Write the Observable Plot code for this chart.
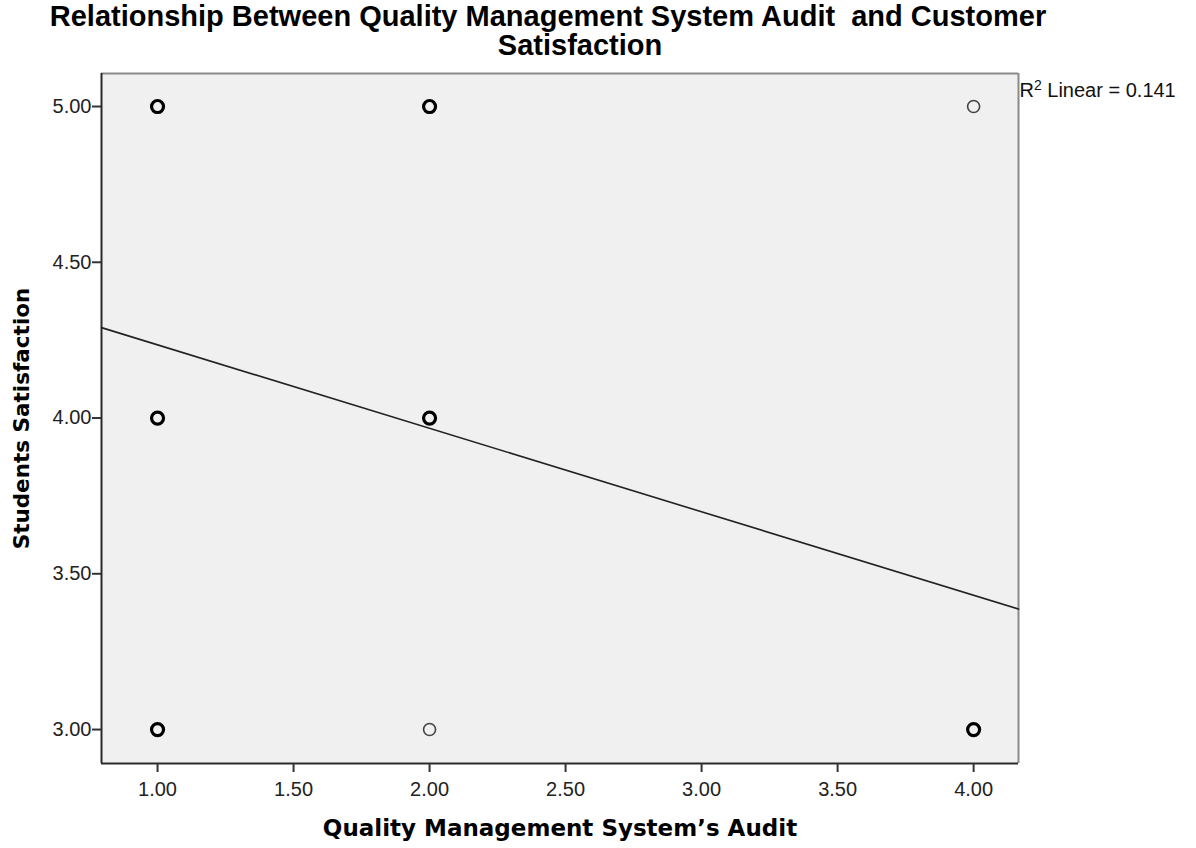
<!DOCTYPE html>
<html>
<head>
<meta charset="utf-8">
<script src="https://cdn.jsdelivr.net/npm/d3@7"></script>
<script src="https://cdn.jsdelivr.net/npm/@observablehq/plot@0.6"></script>
<style>
  html, body { margin: 0; padding: 0; background: #fff; }
  #wrap { position: relative; width: 1196px; height: 848px; }
  #title {
    position: absolute; left: 60px; top: 2px; width: 1000px;
    font-family: "Liberation Sans", Arial, sans-serif; font-weight: bold;
    font-size: 29px; line-height: 29px; text-align: center; color: #000;
    white-space: pre;
  }
  #title span { display: block; position: relative; }
  #title .l1 { left: -12px; }
  #title .l2 { left: 20px; }
  #chart { position: absolute; left: 0; top: 62px; }
</style>
</head>
<body>
<div id="wrap">
  <div id="title"><span class="l1">Relationship Between Quality Management System Audit  and Customer</span><span class="l2">Satisfaction</span></div>
  <div id="chart"></div>
</div>
<script>
// Observed (audit, satisfaction) combinations and whether several cases share the spot
const audit        = [1, 1, 1, 2, 2, 2, 4, 4];
const satisfaction = [5, 4, 3, 5, 4, 3, 5, 3];
const overlapping  = [true, true, true, true, true, false, false, true];

// Linear fit reported for the data
const fitIntercept = 4.503;
const fitSlope = -0.268;
const rSquared = 0.141;

const xTicks = [1.0, 1.5, 2.0, 2.5, 3.0, 3.5, 4.0];
const yTicks = [3.0, 3.5, 4.0, 4.5, 5.0];
const xDomain = [0.794, 4.165];
const yDomain = [2.891, 5.106];

const xLabel = "Quality Management System\u2019s Audit";
const yLabel = "Students Satisfaction";

const points = audit.map((a, i) => ({x: a, y: satisfaction[i], multi: overlapping[i]}));
const fitLine = xDomain.map(x => ({x, y: fitIntercept + fitSlope * x}));

const tickFont = "'Liberation Sans', Arial, sans-serif";
const labelFont = "'DejaVu Sans', Verdana, sans-serif";

const chart = Plot.plot({
  width: 1196,
  height: 786,
  marginTop: 11,
  marginLeft: 101,
  marginRight: 178,
  marginBottom: 85,
  style: {fontFamily: tickFont, background: "#fff", overflow: "visible"},
  x: {domain: xDomain},
  y: {domain: yDomain},
  marks: [
    Plot.frame({fill: "#f0f0f0", stroke: null}),
    // frame edges: light on top/right, dark on left/bottom
    Plot.ruleY([yDomain[1]], {stroke: "#8a8a8a", strokeWidth: 2}),
    Plot.ruleX([xDomain[1]], {stroke: "#8a8a8a", strokeWidth: 2}),
    Plot.ruleX([xDomain[0]], {stroke: "#2a2a2a", strokeWidth: 2}),
    Plot.ruleY([yDomain[0]], {stroke: "#2a2a2a", strokeWidth: 2}),
    Plot.axisX({ticks: xTicks, tickFormat: d3.format(".2f"), tickSize: 9, tickPadding: 9,
      fontSize: 20, label: null, stroke: "#333", strokeWidth: 2, fill: "#222"}),
    Plot.axisY({ticks: yTicks, tickFormat: d3.format(".2f"), tickSize: 9, tickPadding: 1,
      fontSize: 20, label: null, stroke: "#333", strokeWidth: 2, fill: "#222"}),
    Plot.line(fitLine, {x: "x", y: "y", stroke: "#222", strokeWidth: 1.6}),
    Plot.dot(points, {x: "x", y: "y", r: 6, fill: "none",
      stroke: d => d.multi ? "#000" : "#444",
      strokeWidth: d => d.multi ? 3.2 : 1.6}),
    Plot.text([`R2 Linear = ${rSquared}`], {frameAnchor: "top-right", textAnchor: "start",
      dx: 1, dy: 9, fontSize: 20, fill: "#111", className: "r2-note"}),
    Plot.text([xLabel], {frameAnchor: "bottom", textAnchor: "middle", dy: 72, fontSize: 23,
      fontWeight: "bold", fontFamily: labelFont, fill: "#000"}),
    Plot.text([yLabel], {frameAnchor: "left", textAnchor: "middle", dx: -79, rotate: -90,
      fontSize: 21.5, fontWeight: "bold", fontFamily: labelFont, fill: "#000"})
  ]
});

// render the "2" of R2 as a superscript
const note = chart.querySelector(".r2-note text");
if (note) {
  note.textContent = "";
  const ns = "http://www.w3.org/2000/svg";
  const r = document.createElementNS(ns, "tspan");
  r.textContent = "R";
  const sup = document.createElementNS(ns, "tspan");
  sup.textContent = "2";
  sup.setAttribute("font-size", "14");
  sup.setAttribute("dy", "-7");
  const rest = document.createElementNS(ns, "tspan");
  rest.textContent = ` Linear = ${rSquared}`;
  rest.setAttribute("dy", "7");
  note.append(r, sup, rest);
}
document.getElementById("chart").appendChild(chart);
</script>
</body>
</html>
